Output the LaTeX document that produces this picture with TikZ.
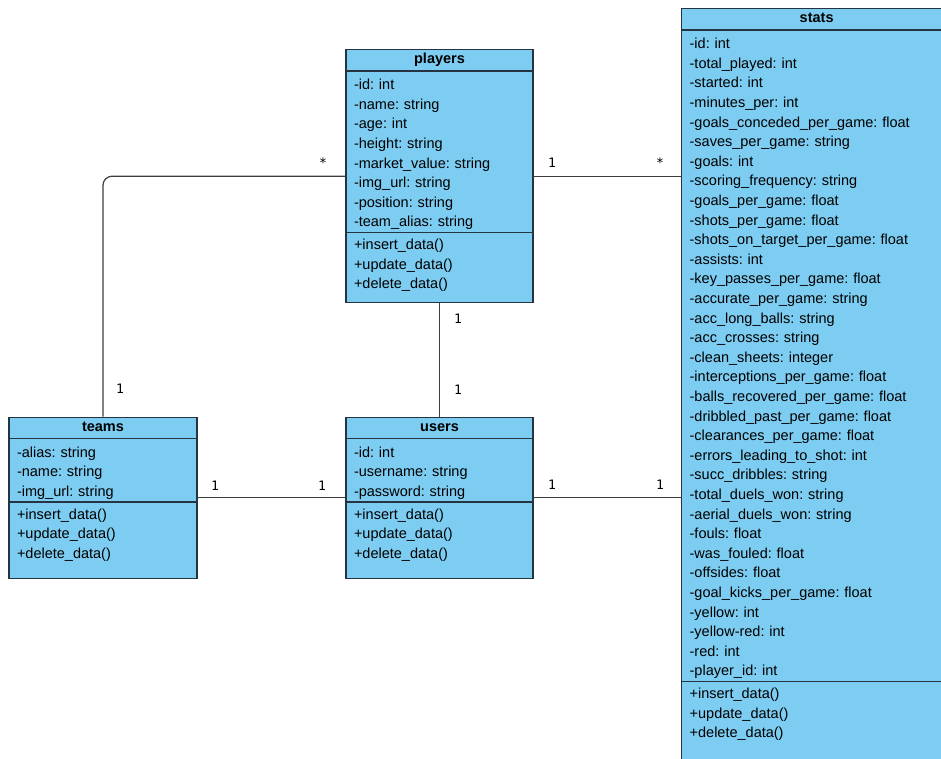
\documentclass[tikz,border=0pt]{standalone}
\usepackage{fontspec}
\setmainfont{Liberation Sans}
\newfontfamily\chiffres{DejaVu Sans Mono}
\usepackage{tikz}
\usetikzlibrary{shapes.multipart,positioning}
\definecolor{bleuclasse}{RGB}{125,204,241}
\definecolor{bordclasse}{RGB}{38,52,66}
\definecolor{trait}{RGB}{62,62,62}

\begin{document}
\begin{tikzpicture}[x=1pt,y=-1pt]
\tikzstyle{classe}=[draw=bordclasse,line width=1.3pt,fill=bleuclasse,rectangle split,rectangle split parts=3,inner xsep=8pt,inner ysep=2pt,align=left,font=\fontsize{14.5}{19.6}\selectfont\frenchspacing]
\tikzstyle{lien}=[draw=trait,line width=1.2pt]
\tikzstyle{mult}=[font=\chiffres\fontsize{13}{13}\selectfont,inner sep=0pt]
\def\Titre#1{\rule[-4.5pt]{0pt}{16pt}\hfill\textbf{#1}\hfill\null}
\def\Haut{\rule{0pt}{16pt}}
\def\Bas{\rule[-3pt]{0pt}{3pt}}
\def\HautOp{\rule{0pt}{14.5pt}}
\def\BasOp#1{\rule[-#1]{0pt}{#1}}
\def\Operations#1{\HautOp+insert\_data()\\+update\_data()\\+delete\_data()\BasOp{#1}}
\useasboundingbox (0,0) rectangle (941,758);
\clip (0,0) rectangle (941,758);
% classes
\node[classe,anchor=north,text width=171pt] (players) at (439.5,49) {\Titre{players}
\nodepart{two}\Haut-id: int\\-name: string\\-age: int\\-height: string\\-market\_value: string\\-img\_url: string\\-position: string\\-team\_alias: string\Bas
\nodepart{three}\Operations{11.3pt}};
\node[classe,anchor=north,text width=172pt] (teams) at (103,416.5) {\Titre{teams}
\nodepart{two}\Haut-alias: string\\-name: string\\-img\_url: string\Bas
\nodepart{three}\Operations{17.3pt}};
\node[classe,anchor=north,text width=171pt] (users) at (439.5,416.5) {\Titre{users}
\nodepart{two}\Haut-id: int\\-username: string\\-password: string\Bas
\nodepart{three}\Operations{17.3pt}};
\node[classe,anchor=north west,text width=254pt] (stats) at (681,8) {\Titre{stats}
\nodepart{two}\Haut-id: int\\-total\_played: int\\-started: int\\-minutes\_per: int\\-goals\_conceded\_per\_game: float\\-saves\_per\_game: string\\-goals: int\\-scoring\_frequency: string\\-goals\_per\_game: float\\-shots\_per\_game: float\\-shots\_on\_target\_per\_game: float\\-assists: int\\-key\_passes\_per\_game: float\\-accurate\_per\_game: string\\-acc\_long\_balls: string\\-acc\_crosses: string\\-clean\_sheets: integer\\-interceptions\_per\_game: float\\-balls\_recovered\_per\_game: float\\-dribbled\_past\_per\_game: float\\-clearances\_per\_game: float\\-errors\_leading\_to\_shot: int\\-succ\_dribbles: string\\-total\_duels\_won: string\\-aerial\_duels\_won: string\\-fouls: float\\-was\_fouled: float\\-offsides: float\\-goal\_kicks\_per\_game: float\\-yellow: int\\-yellow-red: int\\-red: int\\-player\_id: int\Bas
\nodepart{three}\Operations{100pt}};
% liens
\draw[lien,rounded corners=9pt] (teams) |- (players);
\draw[lien] (players) -- (players -| stats.west);
\draw[lien] (players) -- (users);
\draw[lien] (teams) -- (users);
\draw[lien] (users) -- (users -| stats.west);
% multiplicites
\node[mult] (mPlayersTeams) at (323,163) {*};
\node[mult] (mTeamsPlayers) at (120,389) {1};
\node[mult] (mPlayersStats) at (552,163) {1};
\node[mult] (mStatsPlayers) at (660,163) {*};
\node[mult] (mPlayersUsers) at (458,319) {1};
\node[mult] (mUsersPlayers) at (458,390) {1};
\node[mult] (mTeamsUsers) at (215,486) {1};
\node[mult] (mUsersTeams) at (322,486) {1};
\node[mult] (mUsersStats) at (552,485) {1};
\node[mult] (mStatsUsers) at (660,485) {1};
\end{tikzpicture}
\end{document}
